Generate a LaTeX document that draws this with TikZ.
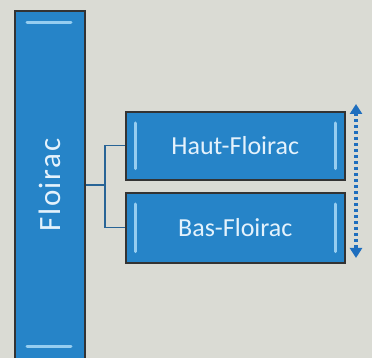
\documentclass[tikz,border=0pt]{standalone}
\usepackage{fontspec}
\setmainfont{Carlito}
\usetikzlibrary{arrows.meta}
\definecolor{bg}{RGB}{218,219,212}
\definecolor{boxblue}{RGB}{38,132,200}
\definecolor{hilite}{RGB}{150,205,240}
\definecolor{lineblue}{RGB}{40,100,150}
\definecolor{arrowblue}{RGB}{30,110,190}
\definecolor{txt}{RGB}{228,242,252}
\tikzset{
  x=1pt,y=1pt,
  bluebox/.style={draw=black!80, line width=1.6pt, fill=boxblue, inner sep=0pt},
  hl/.style={hilite, line width=3pt, line cap=round},
  conn/.style={lineblue, line width=1.4pt},
  lbl/.style={text=txt, font=\fontsize{26}{26}\selectfont},
}
\begin{document}
\begin{tikzpicture}
\fill[bg] (0,0) rectangle (372,358);
\useasboundingbox (0,0) rectangle (372,358);
% big box
\node[bluebox, minimum width=70pt, minimum height=350pt, anchor=north west] (floirac) at (14,348) {};
\draw[hl] (27,335) -- (71,335);
\draw[hl] (27,11) -- (71,11);
\node[lbl, rotate=90, font=\fontsize{31}{31}\selectfont] (floiractext) at (floirac.center |- 0,173) {F\kern1.5pt l\kern1.5pt o\kern1.5pt i\kern1.5pt r\kern1.5pt a\kern1.5pt c};
% small boxes
\node[bluebox, minimum width=219pt, minimum height=68pt, anchor=north west, lbl] (haut) at (125,247) {Haut-Floirac};
\node[bluebox, minimum width=219pt, minimum height=70pt, anchor=north west, lbl] (bas) at (125,166) {Bas-Floirac};
\foreach \b in {haut,bas}{
  \draw[hl] ([xshift=10pt,yshift=-12pt]\b.north west) -- ([xshift=10pt,yshift=12pt]\b.south west);
  \draw[hl] ([xshift=-10pt,yshift=-12pt]\b.north east) -- ([xshift=-10pt,yshift=12pt]\b.south east);
}
% connectors
\coordinate (junc) at (105,173);
\draw[conn] (floirac.east |- junc) -- (junc);
\draw[conn] (haut.west) -| (junc) |- (bas.west);
% arrow
\coordinate (atop) at (356,254);
\coordinate (abot) at (356,100);
\draw[arrowblue, line width=3.5pt, dash pattern=on 3pt off 3pt, {Triangle[length=10pt,width=12pt]}-{Triangle[length=10pt,width=12pt]}] (atop) -- (abot);
\end{tikzpicture}
\end{document}
